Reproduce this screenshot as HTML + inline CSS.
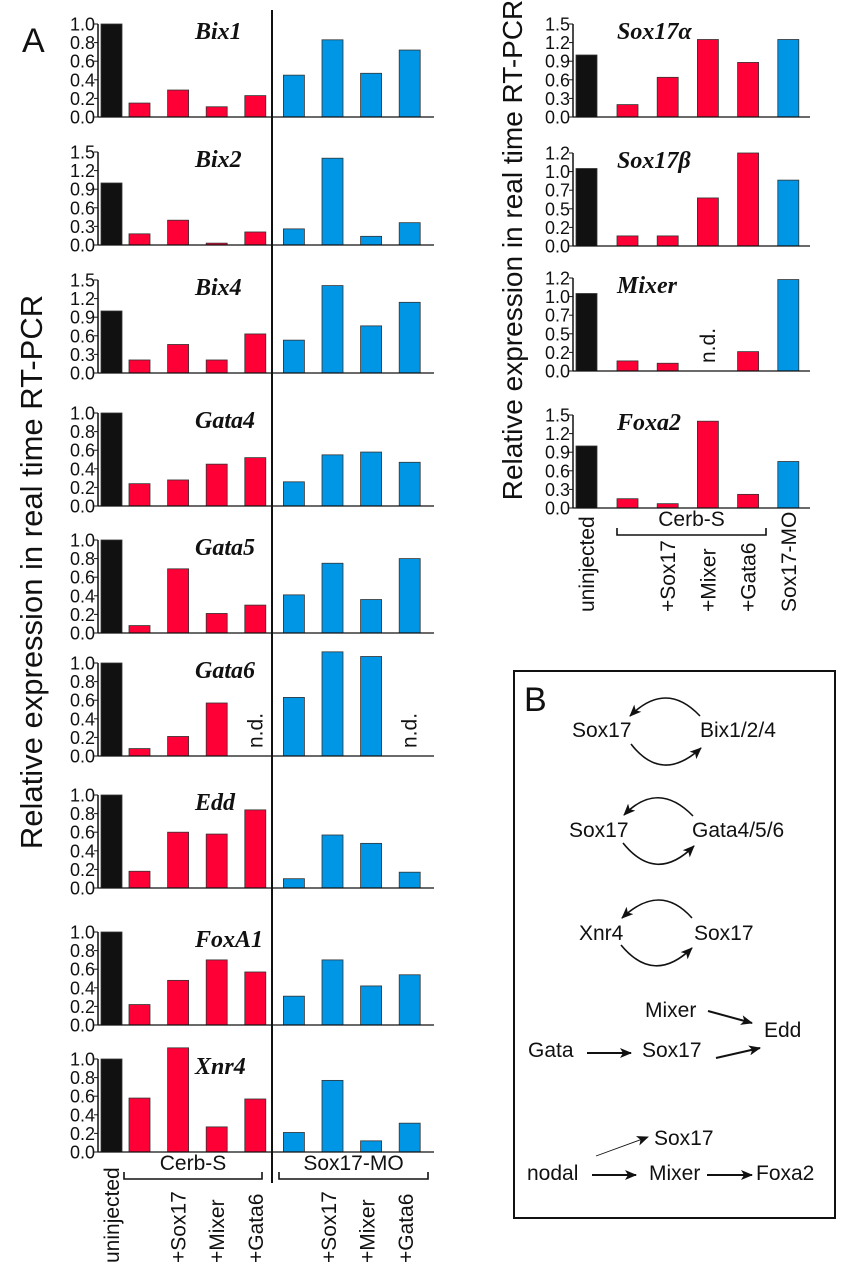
<!DOCTYPE html>
<html><head><meta charset="utf-8"><style>
body{margin:0;background:#fff;width:854px;height:1280px;overflow:hidden}
svg{display:block;font-family:"Liberation Sans",sans-serif}
.t{font-size:18px;fill:#111}
.c{font-size:21px;fill:#111}
.g{font-family:"Liberation Serif",serif;font-style:italic;font-weight:bold;font-size:24px;fill:#111}
.b{font-size:21px;fill:#111}
</style></head><body>
<svg id="fig" width="854" height="1280" viewBox="0 0 854 1280">
<defs><marker id="ah" markerWidth="12" markerHeight="10" refX="11" refY="5" orient="auto" markerUnits="userSpaceOnUse"><path d="M0,0 L12,5 L0,10 L3,5 Z" fill="#111"/></marker></defs>
<text x="22" y="52" font-size="34" fill="#111">A</text>
<text transform="translate(42,572) rotate(-90)" text-anchor="middle" font-size="31" fill="#111">Relative expression in real time RT-PCR</text>
<text transform="translate(522,250) rotate(-90)" text-anchor="middle" font-size="28" fill="#111">Relative expression in real time RT-PCR</text>
<line x1="272" y1="10" x2="272" y2="1183" stroke="#111" stroke-width="2"/>
<g id="charts"></g>
<g id="labels"></g>
<rect x="514" y="671" width="321" height="547" fill="none" stroke="#111" stroke-width="2"/>
<text x="524" y="711" font-size="34" fill="#111">B</text>
<g>
<text class="b" x="572" y="737">Sox17</text>
<text class="b" x="700" y="737">Bix1/2/4</text>
<path d="M700,716 Q666,680 630,716" fill="none" stroke="#111" stroke-width="1.6" marker-end="url(#ah)"/>
<path d="M631,744 Q662,784 701,748" fill="none" stroke="#111" stroke-width="1.6" marker-end="url(#ah)"/>
<text class="b" x="569" y="837">Sox17</text>
<text class="b" x="692" y="837">Gata4/5/6</text>
<path d="M693,816 Q658,780 624,815" fill="none" stroke="#111" stroke-width="1.6" marker-end="url(#ah)"/>
<path d="M623,843 Q656,884 694,846" fill="none" stroke="#111" stroke-width="1.6" marker-end="url(#ah)"/>
<text class="b" x="579" y="940">Xnr4</text>
<text class="b" x="694" y="940">Sox17</text>
<path d="M692,918 Q660,882 622,918" fill="none" stroke="#111" stroke-width="1.6" marker-end="url(#ah)"/>
<path d="M621,945 Q654,985 692,948" fill="none" stroke="#111" stroke-width="1.6" marker-end="url(#ah)"/>
<text class="b" x="645" y="1017">Mixer</text>
<text class="b" x="764" y="1037">Edd</text>
<text class="b" x="528" y="1057">Gata</text>
<text class="b" x="642" y="1057">Sox17</text>
<line x1="708" y1="1011" x2="752" y2="1023" stroke="#111" stroke-width="2" marker-end="url(#ah)"/>
<line x1="587" y1="1053" x2="631" y2="1053" stroke="#111" stroke-width="2" marker-end="url(#ah)"/>
<line x1="716" y1="1058" x2="760" y2="1048" stroke="#111" stroke-width="2" marker-end="url(#ah)"/>
<text class="b" x="654" y="1145">Sox17</text>
<text class="b" x="527" y="1180">nodal</text>
<text class="b" x="649" y="1180">Mixer</text>
<text class="b" x="756" y="1180">Foxa2</text>
<line x1="596" y1="1156" x2="648" y2="1137" stroke="#111" stroke-width="0.9" marker-end="url(#ah)"/>
<line x1="592" y1="1175" x2="636" y2="1175" stroke="#111" stroke-width="2" marker-end="url(#ah)"/>
<line x1="707" y1="1175" x2="752" y2="1175" stroke="#111" stroke-width="2" marker-end="url(#ah)"/>
</g>
</svg>
<script>
// Left panel data (9 conditions: uninjected, Cerb-S, +Sox17, +Mixer, +Gata6, Sox17-MO, +Sox17, +Mixer, +Gata6)
const leftGenes = ["Bix1","Bix2","Bix4","Gata4","Gata5","Gata6","Edd","FoxA1","Xnr4"];
const leftMax = [1.0,1.5,1.5,1.0,1.0,1.0,1.0,1.0,1.0];
const bix1 = [1.0,0.15,0.29,0.11,0.23,0.45,0.83,0.47,0.72];
const bix2 = [1.0,0.18,0.40,0.03,0.21,0.26,1.40,0.14,0.36];
const bix4 = [1.0,0.21,0.46,0.21,0.63,0.53,1.41,0.76,1.14];
const gata4 = [1.0,0.24,0.28,0.45,0.52,0.26,0.55,0.58,0.47];
const gata5 = [1.0,0.08,0.69,0.21,0.30,0.41,0.75,0.36,0.80];
const gata6 = [1.0,0.08,0.21,0.57,null,0.63,1.12,1.07,null];
const edd = [1.0,0.18,0.60,0.58,0.84,0.10,0.57,0.48,0.17];
const foxa1 = [1.0,0.22,0.48,0.70,0.57,0.31,0.70,0.42,0.54];
const xnr4 = [1.0,0.58,1.12,0.27,0.57,0.21,0.77,0.12,0.31];
const leftValues = [bix1,bix2,bix4,gata4,gata5,gata6,edd,foxa1,xnr4];
// Right panel data (6 conditions: uninjected, Cerb-S, +Sox17, +Mixer, +Gata6, Sox17-MO)
const rightGenes = ["Sox17\u03b1","Sox17\u03b2","Mixer","Foxa2"];
const rightMax = [1.5,1.2,1.2,1.5];
const sox17a = [1.0,0.20,0.64,1.25,0.88,1.25];
const sox17b = [1.0,0.13,0.13,0.62,1.20,0.85];
const mixer = [1.0,0.13,0.10,null,0.25,1.18];
const foxa2 = [1.0,0.15,0.07,1.40,0.22,0.75];
const rightValues = [sox17a,sox17b,mixer,foxa2];
const leftColors = ["#111","#ff0036","#ff0036","#ff0036","#ff0036","#0096e6","#0096e6","#0096e6","#0096e6"];
const rightColors = ["#111","#ff0036","#ff0036","#ff0036","#ff0036","#0096e6"];

const NS="http://www.w3.org/2000/svg";
const charts=document.getElementById('charts');
function mk(tag,attrs,parent){const e=document.createElementNS(NS,tag);for(const k in attrs)e.setAttribute(k,attrs[k]);(parent||charts).appendChild(e);return e;}
const leftBase=[117,245,373,506,633,756,888,1025,1152];
const rightBase=[117,246,371,508];
const H=93;
function leftX(i){return i===0?101:129+(i-1)*38.6;}
function rightX(i){return i===0?576:617+(i-1)*40.2;}

function drawPanel(gene,max,vals,colors,base,axisX,endX,xf,bw,titleX,nm){
  const g=mk('g',{});
  
  
  const y=v=>base-v/max*H;
  const ticks=[0,1,2,3,4,5].map(k=>k*max/5);
  ticks.forEach(t=>{
    mk('line',{x1:axisX-4,x2:axisX,y1:y(t),y2:y(t),stroke:'#111','stroke-width':1},g);
    const tx=mk('text',{x:axisX-3,y:y(t)+6.5,'text-anchor':'end',class:'t'},g);
    tx.textContent=t.toFixed(1);
    
    
  });
  mk('line',{x1:axisX,x2:axisX,y1:y(max),y2:base,stroke:'#111','stroke-width':1.5},g);
  vals.forEach((v,i)=>{
    if(v===null){
      const nd=mk('text',{transform:`translate(${xf(i)+bw/2+7},${base-8}) rotate(-90)`,class:'c'},g);
      nd.textContent='n.d.';
      
      
      return;
    }
    const r=mk('rect',{x:xf(i),y:y(v),width:bw,height:base-y(v),fill:colors[i],stroke:'#333','stroke-width':0.8},g);
    
    
  });
  mk('line',{x1:axisX,x2:endX,y1:base,y2:base,stroke:'#111','stroke-width':1.2},g);
  const tt=mk('text',{x:titleX,y:y(max)+15,class:'g'},g);
  tt.textContent=gene;
  
  
}
leftGenes.forEach((gname,k)=>drawPanel(gname,leftMax[k],leftValues[k],leftColors,leftBase[k],98,434,leftX,21,195,gname.toLowerCase()));
rightGenes.forEach((gname,k)=>drawPanel(gname,rightMax[k],rightValues[k],rightColors,rightBase[k],573,810,rightX,21,617,'right-'+k));

// category labels
const leftCats=["uninjected","","+Sox17","+Mixer","+Gata6","","+Sox17","+Mixer","+Gata6"];
const rightCats=["uninjected","","+Sox17","+Mixer","+Gata6","Sox17-MO"];
const lab=document.getElementById('labels');
function rot(x,yb,txt,nm){const e=mk('text',{transform:`translate(${x},${yb}) rotate(-90)`,class:'c'},lab);e.textContent=txt;
}
leftCats.forEach((c,i)=>{if(c)rot(leftX(i)+18+(i>5?-4:0),1263,c,'x-category-label');});
rightCats.forEach((c,i)=>{if(c)rot(rightX(i)+18,612,c,'x-category-label');});
function bracket(x1,x2,yy,txt,nm){
  mk('path',{d:`M${x1},${yy-7} L${x1},${yy} L${x2},${yy} L${x2},${yy-7}`,fill:'none',stroke:'#111','stroke-width':1.6},lab);
  const e=mk('text',{x:(x1+x2)/2,y:yy-9,'text-anchor':'middle',class:'c'},lab);e.textContent=txt;
  
  
}
bracket(124,262,1179,'Cerb-S','cerb-s-group-label');
bracket(279,428,1179,'Sox17-MO','sox17-mo-group-label');
bracket(617,766,535,'Cerb-S','right-cerb-s-group-label');
</script>
</body></html>
